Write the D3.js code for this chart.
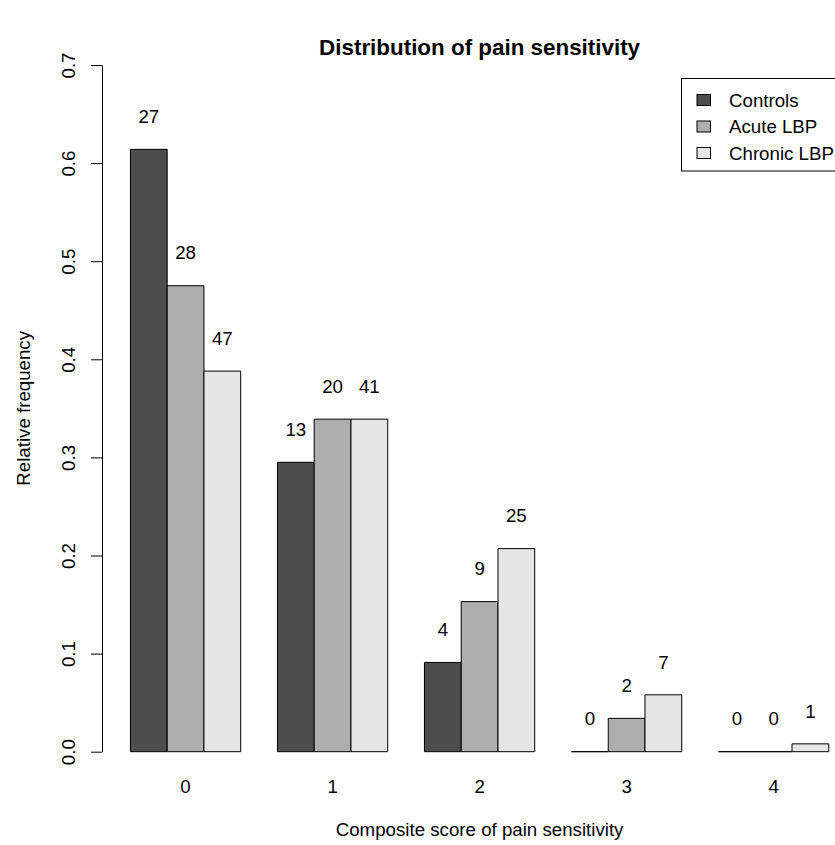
<!DOCTYPE html>
<html>
<head>
<meta charset="utf-8">
<script src="https://cdn.jsdelivr.net/npm/d3@7"></script>
<style>
  body { margin: 0; background: #fff; }
  svg { display: block; font-family: "Liberation Sans", Arial, Helvetica, sans-serif; }
</style>
</head>
<body>
<svg id="chart"></svg>
<script>
// data
const scores = ["0", "1", "2", "3", "4"];
const groups = ["Controls", "Acute LBP", "Chronic LBP"];
const controlsFreq = [0.614, 0.295, 0.091, 0, 0];
const acuteFreq = [0.475, 0.339, 0.153, 0.034, 0];
const chronicFreq = [0.388, 0.339, 0.207, 0.058, 0.008];
const controlsCount = [27, 13, 4, 0, 0];
const acuteCount = [28, 20, 9, 2, 0];
const chronicCount = [47, 41, 25, 7, 1];
const yTicks = [0, 0.1, 0.2, 0.3, 0.4, 0.5, 0.6, 0.7];

const width = 835, height = 845;
const fontSize = 18.7;
const fills = ["#4D4D4D", "#AEAEAE", "#E6E6E6"];

const svg = d3.select("#chart")
    .attr("width", width)
    .attr("height", height);

// R barplot style: each bar is 1 unit, one unit gap between groups
const x = d3.scaleLinear().domain([0.24, 20.76]).range([102.5, 856.7]);
const y = d3.scaleLinear().domain([0, 0.7]).range([751.7, 65]);

const freqs = [controlsFreq, acuteFreq, chronicFreq];
const counts = [controlsCount, acuteCount, chronicCount];

let bars = [];
scores.forEach((s, i) => {
    groups.forEach((g, j) => {
        bars.push({ score: s, group: j, u: 1 + 4 * i + j, value: freqs[j][i], n: counts[j][i] });
    });
});

// bars as closed paths so zero-height bars still show their outline
svg.append("g")
    .selectAll("path")
    .data(bars)
    .join("path")
    .attr("d", d => {
        const x0 = x(d.u), x1 = x(d.u + 1), y0 = y(0), y1 = y(d.value);
        return `M${x0},${y0}H${x1}V${y1}H${x0}Z`;
    })
    .attr("fill", d => fills[d.group])
    .attr("stroke", "#000")
    .attr("stroke-width", 1);

// count labels above bars
svg.append("g")
    .selectAll("text")
    .data(bars)
    .join("text")
    .attr("x", d => x(d.u + 0.5))
    .attr("y", d => y(d.value) - 33)
    .attr("dy", "0.36em")
    .attr("text-anchor", "middle")
    .attr("font-size", fontSize)
    .text(d => d.n);

// y axis
const yAxis = d3.axisLeft(y)
    .tickValues(yTicks)
    .tickFormat(d3.format(".1f"))
    .tickSize(11)
    .tickSizeOuter(0);

const yg = svg.append("g")
    .attr("transform", `translate(${102},0)`)
    .call(yAxis);
yg.select(".domain").attr("stroke", "#000");
yg.selectAll(".tick line").attr("stroke", "#000");
yg.selectAll(".tick text")
    .attr("font-size", fontSize)
    .attr("font-family", "Liberation Sans, Arial, sans-serif")
    .attr("fill", "#000")
    .attr("x", null)
    .attr("dy", null)
    .attr("text-anchor", "middle")
    .attr("transform", "translate(-34,0) rotate(-90)")
    .attr("dominant-baseline", "central");

// x axis labels (no axis line)
svg.append("g")
    .selectAll("text")
    .data(scores)
    .join("text")
    .attr("x", (d, i) => x(1 + 4 * i + 1.5))
    .attr("y", 786.5)
    .attr("dy", "0.36em")
    .attr("text-anchor", "middle")
    .attr("font-size", fontSize)
    .text(d => d);

// titles
const cx = (x.range()[0] + x.range()[1]) / 2;
svg.append("text")
    .attr("x", cx)
    .attr("y", 47)
    .attr("dy", "0.36em")
    .attr("text-anchor", "middle")
    .attr("font-size", 22.4)
    .attr("font-weight", "bold")
    .text("Distribution of pain sensitivity");

svg.append("text")
    .attr("x", cx)
    .attr("y", 829)
    .attr("dy", "0.36em")
    .attr("text-anchor", "middle")
    .attr("font-size", fontSize)
    .text("Composite score of pain sensitivity");

svg.append("text")
    .attr("transform", `translate(23,${y(0.35)}) rotate(-90)`)
    .attr("dy", "0.36em")
    .attr("text-anchor", "middle")
    .attr("font-size", fontSize)
    .text("Relative frequency");

// legend
const legend = svg.append("g");
legend.append("rect")
    .attr("x", 681.5)
    .attr("y", 78.5)
    .attr("width", 200)
    .attr("height", 92.5)
    .attr("fill", "none")
    .attr("stroke", "#000");

const rows = legend.selectAll("g.row")
    .data(groups)
    .join("g")
    .attr("class", "row")
    .attr("transform", (d, i) => `translate(0,${100 + i * 26.5})`);

rows.append("rect")
    .attr("x", 697)
    .attr("y", -5.5)
    .attr("width", 13.5)
    .attr("height", 11)
    .attr("fill", (d, i) => fills[i])
    .attr("stroke", "#000");

rows.append("text")
    .attr("x", 729)
    .attr("dy", "0.36em")
    .attr("font-size", fontSize)
    .text(d => d);
</script>
</body>
</html>
